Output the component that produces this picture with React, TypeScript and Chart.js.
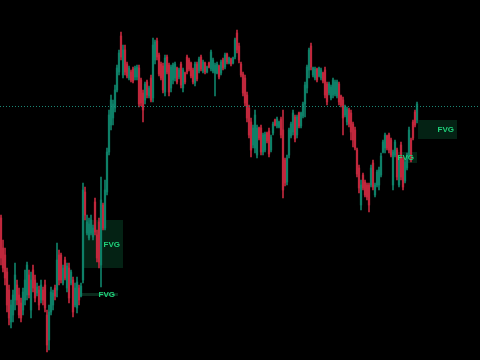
import { useEffect, useRef } from "react";
import { Chart, registerables } from "chart.js";

Chart.register(...registerables);

// OHLC series (price units), one entry per candle
const opens = [
  142, 112, 105, 88, 70, 38, 45, 60, 75, 65, 57, 50, 60, 65, 85, 50, 90, 80, 67, 70,
  60, 70, 75, 45, 20, 48, 55, 72, 70, 105, 105, 77, 100, 72, 92, 77, 80, 55, 52, 72,
  64, 80, 168, 127, 122, 127, 123, 158, 125, 138, 95, 155, 132, 168, 208, 235, 242, 252, 270, 288,
  324, 285, 310, 296, 282, 288, 291, 283, 283, 292, 280, 267, 260, 278, 264, 282, 262, 300, 319, 305,
  296, 294, 268, 303, 295, 272, 280, 282, 292, 283, 296, 272, 287, 303, 300, 297, 290, 277, 296, 289,
  303, 289, 297, 288, 297, 291, 289, 287, 287, 294, 287, 300,
  293, 306, 297, 301, 297, 303, 327, 314, 296, 286,
  282, 265, 252, 238, 215, 212, 205, 232, 232, 208, 210, 227, 229, 210, 227, 240, 234, 233,
  241, 230, 200, 178, 205, 224, 228, 243, 225, 247, 234, 244, 256, 272, 290, 314, 285,
  282, 291, 284, 282, 287, 290, 276, 267, 262, 265, 266, 264, 276, 264, 260, 245, 238, 250, 247, 236, 230,
  210, 192, 155, 185, 178, 175, 175, 175, 197, 165, 175, 175, 185, 208, 212, 224,
  225, 220, 175, 205, 210, 175, 215, 200, 179, 192, 205, 220, 238, 248, 240,
];
const highs = [
  145, 120, 112, 92, 75, 60, 70, 97, 80, 72, 62, 72, 90, 98, 90, 88, 95, 85, 77, 74,
  80, 73, 80, 50, 55, 73, 70, 75, 117, 110, 107, 95, 103, 97, 97, 90, 83, 77, 83, 75,
  77, 177, 173, 145, 142, 145, 135, 162, 130, 142, 183, 157, 180, 212, 250, 265, 260, 275, 295, 310,
  328, 315, 315, 298, 294, 290, 293, 294, 295, 295, 282, 270, 278, 280, 274, 285, 322, 320, 322, 307,
  298, 297, 305, 305, 297, 295, 297, 298, 293, 292, 298, 292, 288, 305, 302, 298, 292, 298, 298, 303,
  305, 300, 298, 294, 298, 310, 302, 297, 298, 295, 300, 302,
  307, 307, 303, 302, 303, 322, 330, 317, 298, 288,
  285, 268, 255, 242, 235, 250, 235, 233, 235, 227, 228, 228, 232, 225, 238, 241, 243, 239,
  243, 250, 202, 205, 232, 238, 250, 245, 245, 248, 248, 258, 278, 295, 312, 317, 293,
  293, 292, 293, 292, 288, 293, 278, 278, 275, 282, 280, 280, 278, 265, 263, 255, 253, 252, 250, 238, 233,
  212, 195, 180, 187, 180, 177, 177, 195, 200, 177, 190, 193, 207, 220, 227, 225,
  227, 222, 210, 220, 212, 203, 218, 203, 200, 207, 233, 222, 240, 250, 258,
];
const lows = [
  95, 88, 75, 48, 35, 32, 38, 50, 55, 42, 38, 45, 55, 60, 62, 42, 68, 58, 64, 50,
  57, 55, 48, 8, 10, 45, 50, 60, 63, 75, 77, 75, 80, 68, 57, 75, 43, 53, 47, 55,
  63, 77, 140, 125, 120, 125, 120, 125, 98, 92, 73, 130, 130, 165, 205, 230, 235, 248, 268, 285,
  300, 282, 285, 282, 280, 278, 277, 280, 280, 253, 254, 238, 256, 262, 262, 258, 258, 296, 300, 284,
  280, 267, 264, 286, 264, 268, 276, 279, 276, 281, 272, 268, 276, 286, 289, 282, 276, 274, 279, 287,
  289, 287, 286, 287, 292, 289, 287, 264, 286, 281, 285, 290,
  291, 296, 296, 294, 296, 301, 307, 297, 283, 264,
  254, 238, 222, 203, 212, 207, 202, 220, 205, 205, 208, 217, 203, 208, 225, 234, 232, 232,
  222, 162, 174, 175, 202, 222, 225, 218, 222, 232, 232, 242, 243, 267, 282, 290, 283,
  280, 278, 283, 280, 277, 262, 255, 265, 260, 262, 264, 262, 255, 253, 225, 243, 235, 233, 220, 213, 210,
  183, 167, 150, 170, 163, 160, 148, 173, 170, 163, 173, 170, 183, 207, 207, 210,
  207, 203, 170, 203, 180, 173, 180, 170, 177, 190, 203, 198, 220, 233, 237,
];
const closes = [
  102, 92, 82, 55, 42, 55, 65, 85, 60, 45, 42, 68, 80, 95, 65, 80, 72, 62, 73, 55,
  75, 60, 52, 15, 48, 68, 67, 64, 100, 80, 80, 92, 82, 94, 62, 88, 48, 72, 78, 60,
  74, 170, 145, 138, 136, 140, 132, 128, 102, 98, 160, 132, 170, 208, 245, 260, 256, 270, 292, 307,
  303, 310, 288, 284, 292, 280, 279, 292, 293, 256, 257, 250, 276, 265, 272, 260, 315, 318, 303, 286,
  282, 270, 302, 288, 268, 293, 295, 296, 278, 290, 275, 290, 278, 288, 291, 284, 278, 296, 281, 301,
  291, 298, 288, 293, 293, 308, 300, 295, 296, 283, 298, 292,
  305, 298, 302, 296, 302, 320, 310, 300, 285, 267,
  257, 242, 225, 210, 232, 245, 232, 222, 208, 225, 226, 219, 206, 223, 236, 235, 241, 238,
  225, 170, 177, 202, 230, 236, 247, 221, 243, 234, 247, 256, 275, 293, 310, 293, 292,
  291, 280, 292, 290, 279, 265, 258, 276, 273, 280, 278, 278, 258, 255, 242, 253, 251, 236, 228, 220, 212,
  186, 172, 175, 172, 165, 163, 155, 192, 173, 175, 188, 190, 204, 218, 225, 212,
  210, 205, 208, 218, 183, 200, 183, 173, 198, 205, 230, 200, 222, 235, 256,
];

const TOTAL_SLOTS = 240; // candle slots incl. empty room on the right
const slotLabels = Array.from({ length: TOTAL_SLOTS }, (_, i) => String(i));

const levelPrice = 254;

// Fair value gaps: slot range and price range
const fvgStart = [41, 40.5, 208.5, 198.5];
const fvgEnd = [61, 58.5, 228, 208];
const fvgTop = [140, 67, 240, 208];
const fvgBottom = [92, 64, 221, 197];
const fvgText = ["FVG", "FVG", "FVG", "FVG"];

const UP = "#0f8068";
const DOWN = "#c1283d";

export default function App() {
  const ref = useRef<HTMLCanvasElement>(null);

  useEffect(() => {
    const canvas = ref.current;
    if (!canvas) return;
    const colors = opens.map((o, i) => (closes[i] >= o ? UP : DOWN));

    const overlay = {
      id: "overlay",
      beforeDraw(chart: any) {
        const c = chart.ctx;
        c.save();
        c.fillStyle = "#000";
        c.fillRect(0, 0, chart.width, chart.height);
        c.restore();
      },
      beforeDatasetsDraw(chart: any) {
        const c = chart.ctx;
        const xs = chart.scales.x;
        const ys = chart.scales.y;
        c.save();
        for (let k = 0; k < fvgStart.length; k++) {
          const x0 = xs.getPixelForValue(fvgStart[k]);
          const x1 = xs.getPixelForValue(fvgEnd[k]);
          const y0 = ys.getPixelForValue(fvgTop[k]);
          const y1 = ys.getPixelForValue(fvgBottom[k]);
          c.fillStyle = k === 1 ? "rgba(40,150,100,0.28)" : "rgba(20,170,100,0.2)";
          c.fillRect(x0, y0, x1 - x0, y1 - y0);
        }
        c.restore();
      },
      afterDatasetsDraw(chart: any) {
        const c = chart.ctx;
        const xs = chart.scales.x;
        const ys = chart.scales.y;
        c.save();
        const ly = Math.round(ys.getPixelForValue(levelPrice)) + 0.5;
        c.strokeStyle = "rgba(30,150,130,0.9)";
        c.lineWidth = 1;
        c.setLineDash([1, 2]);
        c.beginPath();
        c.moveTo(0, ly);
        c.lineTo(chart.width, ly);
        c.stroke();
        c.setLineDash([]);
        c.font = "bold 8px 'Liberation Sans', Arial, sans-serif";
        c.fillStyle = "#1fd17a";
        c.textAlign = "right";
        c.textBaseline = "middle";
        for (let k = 0; k < fvgStart.length; k++) {
          const x1 = xs.getPixelForValue(fvgEnd[k]);
          const ym = (ys.getPixelForValue(fvgTop[k]) + ys.getPixelForValue(fvgBottom[k])) / 2;
          c.fillText(fvgText[k], x1 - 3, ym + 0.5);
        }
        c.restore();
      },
    };

    const chart = new Chart(canvas, {
      type: "bar",
      data: {
        labels: slotLabels,
        datasets: [
          {
            data: lows.map((l, i) => [l, highs[i]]) as any,
            backgroundColor: colors,
            barThickness: 1,
            grouped: false,
            borderWidth: 0,
          } as any,
          {
            data: opens.map((o, i) => [o, closes[i]]) as any,
            backgroundColor: colors,
            barThickness: 1.6,
            grouped: false,
            borderWidth: 0,
            minBarLength: 1,
          } as any,
        ],
      },
      options: {
        responsive: false,
        animation: false,
        layout: { padding: 0 },
        plugins: { legend: { display: false }, tooltip: { enabled: false } },
        scales: {
          x: { display: false, offset: true, grid: { display: false } },
          y: { display: false, min: 0, max: 360 },
        },
      },
      plugins: [overlay],
    });
    return () => chart.destroy();
  }, []);

  return (
    <div style={{ position: "fixed", left: 0, top: 0, width: 480, height: 360, background: "#000" }}>
      <canvas ref={ref} width={480} height={360} style={{ display: "block" }} />
    </div>
  );
}
